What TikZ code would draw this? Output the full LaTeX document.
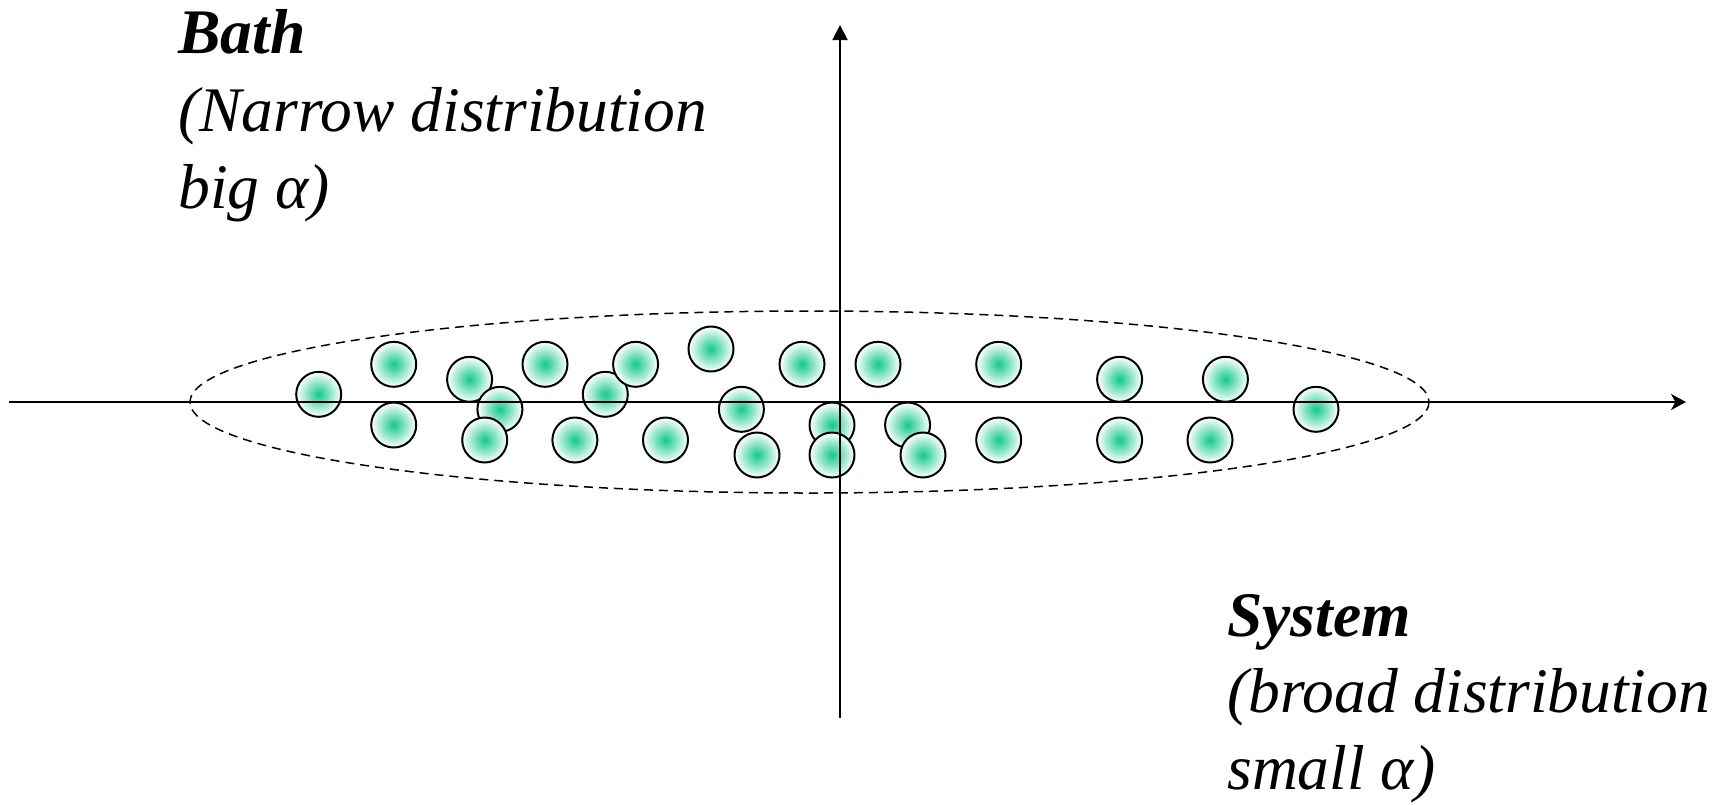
\documentclass[tikz,border=0pt]{standalone}
\usepackage{fontspec}
\setmainfont{Liberation Serif}
\usetikzlibrary{arrows.meta}
\definecolor{dotgreen}{RGB}{20,200,140}
\begin{document}
\begin{tikzpicture}[x=0.5pt,y=-0.5pt,
  dot/.style={circle, draw=black, line width=1pt, minimum size=22.5pt, inner sep=0pt,
              shading=radial, inner color=dotgreen, outer color=white},
  axisline/.style={line width=1pt},
  envelope/.style={line width=0.75pt, dash pattern=on 4.5pt off 3pt},
  lbl/.style={anchor=base west, inner sep=0pt, font=\fontsize{31.75}{38}\selectfont\itshape},
  lblb/.style={lbl, font=\fontsize{31.75}{38}\selectfont\itshape\bfseries},
]
\useasboundingbox (0,0) rectangle (1732,804);

% dashed envelope
\draw[envelope] (809.5,402) ellipse [x radius=619.5, y radius=91];

% particles
\foreach \n/\px/\py in {
  1/318.7/394.3, 2/393.7/364.3, 3/393.7/425, 4/469.6/379.3, 5/499.9/409.3,
  6/484.7/440, 7/545/364.3, 8/605.3/394.3, 9/635.6/364.3, 10/574.9/440,
  11/711/349, 12/665.5/440, 13/741.4/409.3, 14/757/455, 15/802/364.3,
  16/832/425, 17/832/455, 18/878/364.3, 19/907.6/425, 20/923/455,
  21/998.7/364.3, 22/998.7/440, 23/1119.6/379.3, 24/1119.6/440,
  25/1225.4/379.3, 26/1210/440, 27/1316/409.3}
  \node[dot] (c\n) at (\px,\py) {};

% axes
\coordinate (xl) at (9,402);
\coordinate (xr) at (1686,402);
\coordinate (yb) at (840,718);
\coordinate (yt) at (840,25);
\draw[axisline, -{Stealth[length=7.5pt, width=8pt, inset=2.2pt]}] (xl) -- (xr);
\draw[axisline, -{Triangle[length=7.5pt, width=7.5pt]}] (yb) -- (yt);

% labels
\node[lblb] (bath1) at (178,53) {Bath};
\node[lbl]  (bath2) at (178,131) {(Narrow distribution};
\node[lbl]  (bath3) at (178,208) {big α)};

\node[lblb] (sys1) at (1227,636) {System};
\node[lbl]  (sys2) at (1227,712) {(broad distribution};
\node[lbl]  (sys3) at (1227,789) {small α)};
\end{tikzpicture}
\end{document}
